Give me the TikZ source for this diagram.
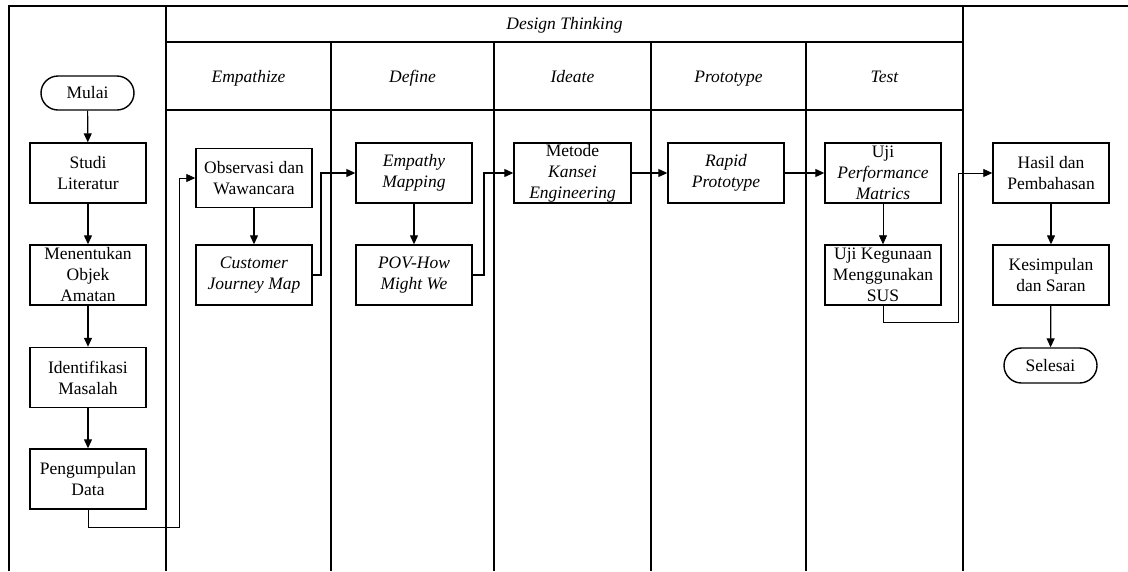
\documentclass[tikz,border=0pt]{standalone}
\usepackage{fontspec}
\setmainfont{Liberation Serif}
\usetikzlibrary{arrows.meta,shapes.misc}
\begin{document}
\begin{tikzpicture}[x=1pt,y=-1pt,
  frame/.style={line width=1.4pt},
  box/.style={draw,line width=1.4pt,minimum width=116pt,minimum height=60pt,inner sep=0pt},
  term/.style={draw,line width=1.4pt,rounded rectangle,minimum width=93pt,minimum height=34pt,inner sep=0pt,font=\fontsize{17.5}{21}\selectfont},
  txt/.style={align=center,inner sep=0pt,font=\fontsize{17.5}{21}\selectfont},
  head/.style={inner sep=0pt,anchor=base,font=\fontsize{17.5}{21}\selectfont\itshape},
  arr/.style={line width=1.2pt,-{Triangle[length=9pt,width=8pt]}},
  thinarr/.style={line width=0.8pt,-{Triangle[length=9pt,width=8pt]}}
]
\useasboundingbox (0,0) rectangle (1128,571);
% frame
\draw[frame] (9,571) -- (9,6) -- (1128,6);
\draw[frame] (166,6) -- (166,571);
\draw[frame] (963,6) -- (963,571);
\draw[frame] (166,42) -- (963,42);
\draw[frame] (166,110) -- (963,110);
\foreach \xx in {331,494,651,806} \draw[frame] (\xx,42) -- (\xx,571);
% headers
\node[head] (hdt) at (564.5,29) {Design Thinking};
\node[head] (hemp) at (248.5,82) {Empathize};
\node[head] (hdef) at (412.5,82) {Define};
\node[head] (hide) at (572.5,82) {Ideate};
\node[head] (hpro) at (728.5,82) {Prototype};
\node[head] (htes) at (884.5,82) {Test};
% left column
\node[term] (mulai) at (87.5,93) {Mulai};
\node[box] (studi) at (88,173) {}; \node[txt] (tstudi) at (studi) {Studi\\Literatur};
\node[box] (menent) at (88,275) {}; \node[txt] (tmenent) at (menent) {Menentukan\\Objek\\Amatan};
\node[box] (ident) at (88,377.5) {}; \node[txt] (tident) at (ident) {Identifikasi\\Masalah};
\node[box] (peng) at (88,479) {}; \node[txt] (tpeng) at (peng) {Pengumpulan\\Data};
% empathize
\node[box,minimum height=59.5pt] (obs) at (254,178) {}; \node[txt] (tobs) at (obs) {Observasi dan\\Wawancara};
\node[box] (cjm) at (254,275) {}; \node[txt] (tcjm) at (cjm) {\itshape Customer\\\itshape Journey Map};
% define
\node[box] (emp) at (414,173) {}; \node[txt] (temp) at (emp) {\itshape Empathy\\\itshape Mapping};
\node[box] (pov) at (414,275) {}; \node[txt] (tpov) at (pov) {\itshape POV-How\\\itshape Might We};
% ideate
\node[box,minimum width=117pt] (kansei) at (572.5,173) {}; \node[txt] (tkansei) at (kansei) {Metode\\\itshape Kansei\\\itshape Engineering};
% prototype
\node[box] (rapid) at (726,173) {}; \node[txt] (trapid) at (rapid) {\itshape Rapid\\\itshape Prototype};
% test
\node[box] (perf) at (883,173) {}; \node[txt] (tperf) at (perf) {Uji\\\itshape Performance\\\itshape Matrics};
\node[box] (sus) at (883,275) {}; \node[txt] (tsus) at (sus) {Uji Kegunaan\\Menggunakan\\SUS};
% right column
\node[box] (hasil) at (1051,173) {}; \node[txt] (thasil) at (hasil) {Hasil dan\\Pembahasan};
\node[box] (kes) at (1051,275) {}; \node[txt] (tkes) at (kes) {Kesimpulan\\dan Saran};
\node[term,minimum height=35pt] (selesai) at (1050.5,365.5) {Selesai};
% bend coordinates
\coordinate (b1) at (179,527);
\coordinate (b2) at (321,0);
\coordinate (b3) at (484,0);
\coordinate (b4) at (958,322);
% connectors
\draw[arr] (mulai) -- (studi);
\draw[arr] (studi) -- (menent);
\draw[arr] (menent) -- (ident);
\draw[arr] (ident) -- (peng);
\draw[thinarr] (peng.south) |- (b1) |- (obs.west);
\draw[arr] (obs) -- (cjm);
\draw[arr] (cjm.east) -| (b2 |- emp.west) -- (emp.west);
\draw[arr] (emp) -- (pov);
\draw[arr] (pov.east) -| (b3 |- kansei.west) -- (kansei.west);
\draw[arr] (kansei) -- (rapid);
\draw[arr] (rapid) -- (perf);
\draw[thinarr] (perf) -- (sus);
\draw[thinarr] (sus.south) |- (b4) |- (hasil.west);
\draw[arr] (hasil) -- (kes);
\draw[arr] (kes) -- (selesai);
\end{tikzpicture}
\end{document}
